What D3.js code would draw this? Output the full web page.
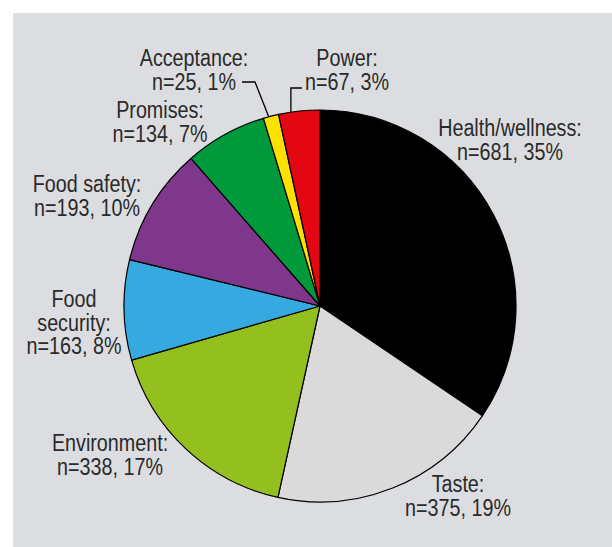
<!DOCTYPE html>
<html><head><meta charset="utf-8">
<script src="https://cdn.jsdelivr.net/npm/d3@7"></script>
<style>
html,body{margin:0;padding:0;background:#fff;}
svg{display:block;}
</style></head>
<body>
<svg id="chart" width="612" height="547"></svg>
<script>
const categories = ["Health/wellness", "Taste", "Environment", "Food security", "Food safety", "Promises", "Acceptance", "Power"];
const counts = [681, 375, 338, 163, 193, 134, 25, 67];
const percents = [35, 19, 17, 8, 10, 7, 1, 3];
const colors = ["#000000", "#dadada", "#93c01f", "#36a9e1", "#7e378a", "#009a3d", "#ffe100", "#e30613"];

const svg = d3.select("#chart");
const W = 612, H = 547;
svg.append("rect").attr("x", 13).attr("y", 13).attr("width", W - 13).attr("height", H - 13).attr("fill", "#dcdde0");

const cx = 320, cy = 306, R = 196;
const g = svg.append("g").attr("transform", `translate(${cx},${cy})`);
const data = categories.map((c, i) => ({ name: c, n: counts[i], pct: percents[i], color: colors[i] }));
const pie = d3.pie().value(d => d.n).sort(null);
const arcs = pie(data);
const arc = d3.arc().innerRadius(0).outerRadius(R);
g.selectAll("path.slice").data(arcs).enter().append("path")
  .attr("class", "slice")
  .attr("d", arc)
  .attr("fill", d => d.data.color)
  .attr("stroke", "#000").attr("stroke-width", 1.2).attr("stroke-linejoin", "round");

// labels: [lines, centerX, firstBaseline]
const labelPos = {
  "Health/wellness": [[ "Health/wellness:" ], 510, 136],
  "Taste": [[ "Taste:" ], 458, 492],
  "Environment": [[ "Environment:" ], 110, 451],
  "Food security": [[ "Food", "security:" ], 74, 307],
  "Food safety": [[ "Food safety:" ], 87, 192],
  "Promises": [[ "Promises:" ], 160, 118],
  "Acceptance": [[ "Acceptance:" ], 194, 66],
  "Power": [[ "Power:" ], 347, 66]
};
const lineH = 23.7;
const font = "'Liberation Sans', Arial, sans-serif";
data.forEach(d => {
  const [lines, x, y] = labelPos[d.name];
  const all = lines.concat([`n=${d.n}, ${d.pct}%`]);
  const t = svg.append("text")
    .attr("transform", `translate(${x},0) scale(0.84,1)`)
    .attr("text-anchor", "middle")
    .attr("font-family", font).attr("font-size", 23.5).attr("fill", "#2a2a2a");
  all.forEach((s, i) => t.append("tspan").attr("x", 0).attr("y", y + i * lineH).text(s));
});

// leader lines
function edgePoint(name, frac) {
  const a = arcs.find(d => d.data.name === name);
  const ang = a.startAngle + (a.endAngle - a.startAngle) * frac;
  return [cx + R * Math.sin(ang), cy - R * Math.cos(ang)];
}
const accE = edgePoint("Acceptance", 0.35);
svg.append("path").attr("d", `M242,82 L255,82 L${accE[0]},${accE[1]}`)
  .attr("fill", "none").attr("stroke", "#000").attr("stroke-width", 1.3);
const powE = edgePoint("Power", 0.3);
svg.append("path").attr("d", `M302,88 L${powE[0]},88 L${powE[0]},${powE[1]}`)
  .attr("fill", "none").attr("stroke", "#000").attr("stroke-width", 1.3);
</script>
</body></html>
